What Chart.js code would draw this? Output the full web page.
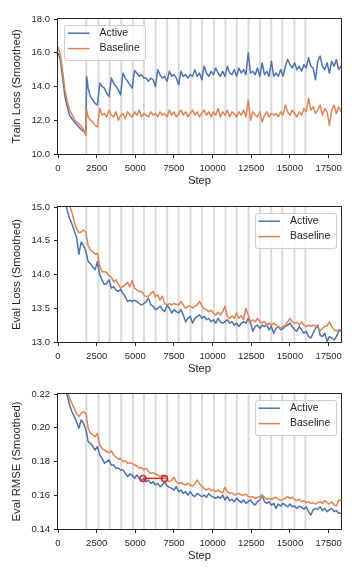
<!DOCTYPE html>
<html>
<head>
<meta charset="utf-8">
<script src="https://cdn.jsdelivr.net/npm/chart.js@4.4.0/dist/chart.umd.min.js"></script>
<style>
  html, body { margin: 0; padding: 0; background: #fff; }
  body { width: 360px; height: 576px; position: relative; overflow: hidden; }
  canvas { position: absolute; left: 0; }
</style>
</head>
<body>
<canvas id="trainChart" width="360" height="181" style="top:9px"></canvas>
<canvas id="evalLossChart" width="360" height="181" style="top:197px"></canvas>
<canvas id="rmseChart" width="360" height="181" style="top:384px"></canvas>
<script>
// training steps (x values shared by every series)
const steps = [0, 150, 300, 450, 600, 750, 900, 1050, 1200, 1350, 1500, 1650, 1800,
  1850, 1950, 2100, 2250, 2400, 2550,
  2700, 2850, 3000, 3150, 3300,
  3450, 3600, 3750, 3900, 4050,
  4200, 4350, 4500, 4650, 4800,
  4950, 5100, 5250, 5400, 5550, 5700, 5850, 6000, 6150, 6300,
  6450, 6600, 6750, 6900, 7050, 7200, 7350, 7500, 7650, 7800,
  7950, 8100, 8250, 8400, 8550, 8700, 8850, 9000, 9150, 9300,
  9450, 9600, 9750, 9900, 10050, 10200, 10350, 10500, 10650, 10800,
  10950, 11100, 11250, 11400, 11550, 11700, 11850, 12000, 12150, 12300,
  12450, 12600, 12750, 12900, 13050, 13200, 13350, 13500, 13650, 13800,
  13950, 14100, 14250, 14400, 14550, 14700, 14850, 15000, 15150, 15300,
  15450, 15600, 15750, 15900, 16050, 16200, 16350, 16500, 16650, 16800,
  16950, 17100, 17250, 17400, 17550, 17700, 17850, 18000, 18150, 18300];

// Train loss (smoothed)
const trainActive = [16.0, 15.6, 14.5, 13.4, 12.8, 12.3, 12.1, 11.9, 11.75, 11.6, 11.45, 11.35, 11.3,
  14.6, 13.9, 13.4, 13.2, 13.0, 12.9,
  14.2, 14.0, 13.9, 13.6, 13.4,
  14.5, 14.2, 14.0, 13.8, 13.5,
  14.8, 14.5, 14.3, 14.1, 13.9,
  14.95, 14.8, 14.6, 14.7, 14.5, 14.5, 14.3, 14.5, 14.4, 14.0,
  15.0, 14.7, 14.5, 14.6, 14.3, 14.9, 14.6, 14.7, 14.5, 14.1,
  14.9, 14.6, 14.7, 14.5, 14.7, 14.6, 15.0, 14.6, 14.8, 14.4,
  15.2, 14.8, 14.6, 14.9, 14.7, 15.1, 14.8, 14.6, 14.9, 14.6,
  15.2, 14.8, 14.7, 15.0, 14.6, 15.1, 14.8, 15.0, 14.7, 16.0,
  14.8, 14.9, 14.7, 15.1, 14.6, 15.4, 14.7, 14.9, 14.6, 15.5,
  14.6, 14.8, 14.6, 15.0, 14.6, 15.2, 15.6, 15.3, 15.1, 15.4,
  15.0, 15.2, 14.9, 15.3, 15.1, 15.7, 15.2, 15.1, 14.4, 15.5,
  15.8, 15.2, 15.0, 15.4, 14.8, 15.5, 15.2, 15.6, 15.0, 15.2];
const trainBaseline = [16.35, 15.9, 14.9, 13.8, 13.1, 12.6, 12.35, 12.05, 11.9, 11.8, 11.65, 11.45, 11.1,
  12.6, 12.2, 12.0, 11.9, 11.7, 11.6,
  12.7, 12.3, 12.4, 12.2, 12.6,
  12.3, 12.2, 12.5, 12.0, 12.3,
  12.4, 12.1, 12.5, 12.3, 12.2,
  12.5, 12.3, 12.6, 12.2, 12.4, 12.3, 12.2, 12.5, 12.3, 12.4,
  12.2, 12.5, 12.3, 12.4, 12.2, 12.6, 12.3, 12.5, 12.2, 12.4,
  12.6, 12.3, 12.5, 12.2, 12.4, 12.6, 12.3, 12.5, 12.2, 12.4,
  12.6, 12.3, 12.5, 12.2, 12.5, 12.3, 12.7, 12.2, 12.5, 12.3,
  12.6, 12.2, 12.5, 12.4, 12.2, 12.5, 12.3, 12.6, 12.2, 13.2,
  12.0, 12.5, 12.3, 12.2, 12.5, 11.9, 12.3, 12.5, 12.2, 12.4,
  12.3, 12.4, 12.2, 12.5, 12.3, 12.9, 12.5, 12.3, 12.6, 12.4,
  12.2, 12.5, 12.3, 12.7, 12.5, 13.3, 12.6, 12.8, 12.4, 12.6,
  12.9, 12.3, 12.7, 12.5, 11.7, 12.6, 12.9, 12.4, 12.8, 12.5];

// Eval loss (smoothed)
const evalLossActive = [16.0, 15.6, 15.3, 15.1, 14.95, 14.83, 14.75, 14.65, 14.55, 14.3, 14.48, 14.43, 14.34,
  14.3, 14.19, 14.16, 14.11, 14.07, 14.19,
  13.99, 13.92, 13.85, 13.87, 13.92,
  13.8, 13.82, 13.77, 13.75, 13.78,
  13.72, 13.67, 13.6, 13.62, 13.6,
  13.62, 13.6, 13.57, 13.55, 13.57, 13.6, 13.65, 13.55, 13.53, 13.48,
  13.5, 13.53, 13.48, 13.45, 13.55, 13.5, 13.43, 13.48, 13.45, 13.43,
  13.48, 13.4, 13.3, 13.35, 13.38, 13.28, 13.35, 13.38, 13.4, 13.35,
  13.38, 13.33, 13.35, 13.3, 13.33, 13.28, 13.35, 13.3, 13.28, 13.3,
  13.33, 13.28, 13.3, 13.25, 13.28, 13.23, 13.28, 13.3, 13.28, 13.35,
  13.28, 13.16, 13.23, 13.25, 13.2, 13.25, 13.23, 13.25, 13.18, 13.23,
  13.13, 13.2, 13.23, 13.18, 13.2, 13.23, 13.25, 13.28, 13.23, 13.18,
  13.16, 13.23, 13.18, 13.13, 13.16, 13.08, 13.06, 13.13, 13.2, 13.25,
  13.1, 13.08, 13.13, 13.01, 13.08, 13.06, 13.03, 13.08, 13.16, 13.17];
const evalLossBaseline = [16.3, 15.9, 15.6, 15.35, 15.15, 15.02, 14.92, 14.78, 14.68, 14.62, 14.63, 14.66, 14.63,
  14.55, 14.43, 14.36, 14.34, 14.3, 14.31,
  14.12, 14.04, 14.04, 14.03, 13.98,
  13.96, 13.89, 13.92, 13.85, 13.8,
  13.82, 13.85, 13.88, 13.82, 13.91,
  13.8, 13.77, 13.75, 13.75, 13.7, 13.67, 13.68, 13.72, 13.75, 13.67,
  13.7, 13.62, 13.68, 13.57, 13.55, 13.57, 13.55, 13.57, 13.56, 13.55,
  13.6, 13.55, 13.5, 13.53, 13.53, 13.5, 13.53, 13.55, 13.6, 13.54,
  13.49, 13.48, 13.45, 13.47, 13.43, 13.4, 13.44, 13.4, 13.45, 13.53,
  13.38, 13.35, 13.39, 13.35, 13.43, 13.35, 13.39, 13.33, 13.5, 13.4,
  13.3, 13.33, 13.3, 13.35, 13.3, 13.28, 13.3, 13.25, 13.28, 13.25,
  13.28, 13.25, 13.23, 13.2, 13.23, 13.25, 13.3, 13.35, 13.3, 13.28,
  13.29, 13.25, 13.3, 13.25, 13.23, 13.25, 13.23, 13.25, 13.24, 13.22,
  13.16, 13.2, 13.23, 13.24, 13.3, 13.23, 13.18, 13.16, 13.18, 13.18];

// Eval RMSE (smoothed)
const rmseActive = [0.245, 0.235, 0.228, 0.223, 0.219, 0.2135, 0.2095, 0.2066, 0.2036, 0.1997, 0.2046, 0.2026, 0.1987,
  0.197, 0.1918, 0.1908, 0.1888, 0.1868, 0.1888,
  0.1839, 0.1819, 0.1789, 0.1799, 0.1809,
  0.1779, 0.1779, 0.176, 0.176, 0.175,
  0.175, 0.173, 0.171, 0.1726, 0.172,
  0.17, 0.172, 0.17, 0.169, 0.1694, 0.168, 0.169, 0.167, 0.168, 0.1661,
  0.167, 0.1651, 0.1661, 0.168, 0.1655, 0.1647, 0.1641, 0.1631, 0.1651, 0.1621,
  0.1631, 0.1611, 0.1621, 0.1601, 0.1621, 0.1601, 0.1592, 0.1611, 0.1601, 0.1592,
  0.1601, 0.1588, 0.1611, 0.1596, 0.1588, 0.1582, 0.1592, 0.1582, 0.1601, 0.1572,
  0.1592, 0.1568, 0.1576, 0.1562, 0.1582, 0.1568, 0.1556, 0.1572, 0.1552, 0.1562,
  0.1572, 0.1552, 0.1542, 0.1562, 0.1572, 0.1601, 0.1562, 0.1552, 0.1562, 0.1542,
  0.1552, 0.1522, 0.1548, 0.1536, 0.1552, 0.1542, 0.1532, 0.1548, 0.1532, 0.1536,
  0.1522, 0.1536, 0.1528, 0.1517, 0.1532, 0.1503, 0.1483, 0.1513, 0.1522, 0.1517,
  0.1532, 0.1509, 0.1522, 0.1503, 0.1513, 0.1522, 0.1503, 0.1509, 0.1493, 0.1495];
const rmseBaseline = [0.25, 0.24, 0.232, 0.226, 0.222, 0.2174, 0.2145, 0.2115, 0.2085, 0.2066, 0.2085, 0.2095, 0.2085,
  0.206, 0.1997, 0.1967, 0.1957, 0.1947, 0.1967,
  0.1898, 0.1878, 0.1868, 0.1858, 0.1852,
  0.1864, 0.1839, 0.1825, 0.1813, 0.1819,
  0.1799, 0.1805, 0.1789, 0.1793, 0.1789,
  0.1779, 0.1773, 0.176, 0.1765, 0.175, 0.176, 0.174, 0.173, 0.1734, 0.1726,
  0.172, 0.171, 0.172, 0.171, 0.169, 0.168, 0.169, 0.1706, 0.168, 0.167,
  0.1675, 0.1667, 0.1661, 0.167, 0.1661, 0.1655, 0.1667, 0.169, 0.167, 0.1651,
  0.1641, 0.1631, 0.1641, 0.1627, 0.1631, 0.1621, 0.1631, 0.1621, 0.1615, 0.1647,
  0.1621, 0.1611, 0.1615, 0.1601, 0.1607, 0.1611, 0.1601, 0.1601, 0.1607, 0.1592,
  0.1588, 0.1592, 0.1582, 0.1588, 0.1592, 0.1601, 0.1588, 0.1576, 0.1582, 0.1576,
  0.1582, 0.1588, 0.1576, 0.1568, 0.1576, 0.1582, 0.1592, 0.1582, 0.1588, 0.1576,
  0.1568, 0.1576, 0.1562, 0.1568, 0.1556, 0.1562, 0.1552, 0.1556, 0.1548, 0.1556,
  0.1562, 0.1552, 0.1568, 0.1556, 0.1548, 0.1562, 0.1542, 0.1536, 0.1572, 0.157];

// grey vertical markers (acquisition rounds)
const roundSteps = [1830, 2620, 3340, 4090, 4840, 5560, 6310, 7060, 7800, 8570,
  9320, 10080, 10830, 11560, 12320, 13070, 13790, 14500, 15290, 16000];

// red "same RMSE" marker on the last panel
const markerSteps = [5490, 6890];
const markerValues = [0.17, 0.17];

// tick labels
const xTicks = [0, 2500, 5000, 7500, 10000, 12500, 15000, 17500];
const trainTicks = [10, 12, 14, 16, 18];
const evalLossTicks = [13, 13.5, 14, 14.5, 15];
const rmseTicks = [0.14, 0.16, 0.18, 0.20, 0.22];

const BLUE = '#4C72B0';
const ORANGE = '#DD8452';
const INK = '#262626';
const FONT = '"Liberation Sans", Arial, sans-serif';

const roundLines = {
  id: 'roundLines',
  beforeDatasetsDraw(chart) {
    const { ctx, chartArea: a, scales: { x } } = chart;
    ctx.save();
    ctx.beginPath();
    ctx.rect(a.left, a.top, a.width, a.height);
    ctx.clip();
    ctx.strokeStyle = '#dadada';
    ctx.lineWidth = 2;
    roundSteps.forEach(s => {
      const px = x.getPixelForValue(s);
      ctx.beginPath();
      ctx.moveTo(px, a.top);
      ctx.lineTo(px, a.bottom);
      ctx.stroke();
    });
    ctx.restore();
  }
};

const frame = {
  id: 'frame',
  afterDatasetsDraw(chart) {
    const { ctx, chartArea: a } = chart;
    ctx.save();
    ctx.strokeStyle = INK;
    ctx.lineWidth = 1;
    ctx.strokeRect(Math.round(a.left) - 0.5, Math.round(a.top) - 0.5,
      Math.round(a.width) + 1, Math.round(a.height) + 1);
    ctx.restore();
  }
};

const insideLegend = {
  id: 'insideLegend',
  afterDraw(chart, args, opts) {
    const { ctx, chartArea: a } = chart;
    const w = 81, h = 35;
    const left = opts.corner === 'left' ? a.left + 6 : a.right - 5.5 - w;
    const top = a.top + 5.5;
    ctx.save();
    ctx.beginPath();
    ctx.roundRect(Math.round(left) + 0.5, Math.round(top) + 0.5, w, h, 2.5);
    ctx.fillStyle = 'rgba(255,255,255,0.8)';
    ctx.fill();
    ctx.strokeStyle = '#cfcfcf';
    ctx.lineWidth = 1;
    ctx.stroke();
    ctx.font = '10.5px ' + FONT;
    ctx.textBaseline = 'middle';
    chart.data.datasets.filter(d => d.label).forEach((d, i) => {
      const y = top + 8.7 + i * 15.4;
      ctx.strokeStyle = d.borderColor;
      ctx.lineWidth = 1.5;
      ctx.beginPath();
      ctx.moveTo(left + 4, y);
      ctx.lineTo(left + 25.5, y);
      ctx.stroke();
      ctx.fillStyle = INK;
      ctx.fillText(d.label, left + 35.5, y);
    });
    ctx.restore();
  }
};

function series(values) {
  return steps.map((s, i) => ({ x: s, y: values[i] }));
}

function drawPanel(id, active, baseline, yTicks, digits, yTitle, corner, extra) {
  const datasets = [
    { label: 'Active', data: series(active), borderColor: BLUE, borderWidth: 1.5,
      pointRadius: 0, borderJoinStyle: 'round', order: 2 },
    { label: 'Baseline', data: series(baseline), borderColor: ORANGE, borderWidth: 1.5,
      pointRadius: 0, borderJoinStyle: 'round', order: 1 }
  ].concat(extra || []);

  return new Chart(document.getElementById(id), {
    type: 'line',
    data: { datasets },
    options: {
      responsive: false,
      animation: false,
      events: [],
      layout: { padding: { top: 10, right: 19, bottom: 0, left: 0 } },
      plugins: {
        legend: { display: false },
        tooltip: { enabled: false },
        insideLegend: { corner }
      },
      scales: {
        x: {
          type: 'linear',
          min: 0,
          max: 18300,
          afterBuildTicks: s => { s.ticks = xTicks.map(v => ({ value: v })); },
          afterFit: s => { s.height = 36; },
          ticks: { callback: v => String(v), color: INK, font: { family: FONT, size: 9.5 },
                   padding: 4.5, maxRotation: 0, autoSkip: false },
          grid: { drawOnChartArea: false, drawTicks: true, tickLength: 4, color: INK, lineWidth: 1 },
          border: { display: false },
          title: { display: true, text: 'Step', color: INK, font: { family: FONT, size: 11.3 },
                   padding: { top: 0, bottom: 1.9 } }
        },
        y: {
          type: 'linear',
          min: yTicks[0],
          max: yTicks[yTicks.length - 1],
          afterBuildTicks: s => { s.ticks = yTicks.map(v => ({ value: v })); },
          afterFit: s => { s.width = 58; },
          ticks: { callback: v => Number(v).toFixed(digits), color: INK,
                   font: { family: FONT, size: 9.5 }, padding: 4 },
          grid: { drawOnChartArea: false, drawTicks: true, tickLength: 4, color: INK, lineWidth: 1 },
          border: { display: false },
          title: { display: true, text: yTitle, color: INK, font: { family: FONT, size: 11.3 },
                   padding: { top: 9.9, bottom: 0 } }
        }
      }
    },
    plugins: [roundLines, frame, insideLegend]
  });
}

drawPanel('trainChart', trainActive, trainBaseline, trainTicks, 1,
  'Train Loss (Smoothed)', 'left');
drawPanel('evalLossChart', evalLossActive, evalLossBaseline, evalLossTicks, 1,
  'Eval Loss (Smoothed)', 'right');
drawPanel('rmseChart', rmseActive, rmseBaseline, rmseTicks, 2,
  'Eval RMSE (Smoothed)', 'right', [{
    data: markerSteps.map((s, i) => ({ x: s, y: markerValues[i] })),
    borderColor: '#d62728', borderWidth: 1.5,
    pointRadius: 3, pointBorderColor: '#d62728', pointBorderWidth: 1.5,
    pointBackgroundColor: 'rgba(0,0,0,0)', order: 0
  }]);
</script>
</body>
</html>
